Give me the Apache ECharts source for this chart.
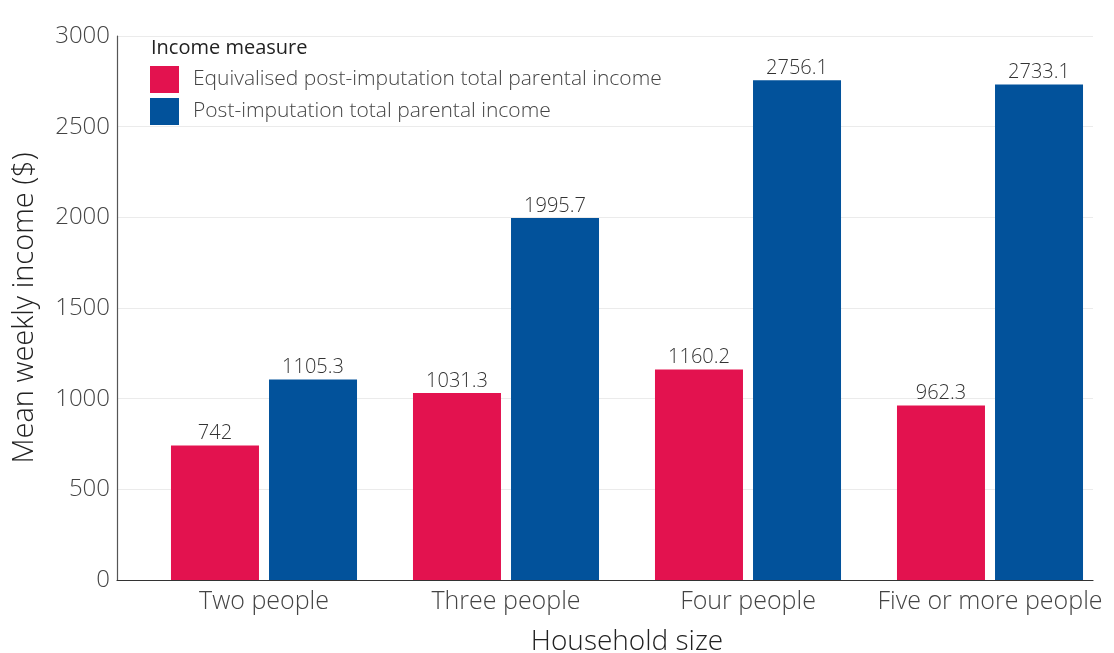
<!DOCTYPE html>
<html>
<head>
<meta charset="utf-8">
<script src="https://cdn.jsdelivr.net/npm/echarts@6/dist/echarts.min.js"></script>
<style>
html,body{margin:0;padding:0;background:#fff;}
#chart{width:1114px;height:653px;}
</style>
</head>
<body>
<div id="chart"></div>
<script>
const categories = ["Two people", "Three people", "Four people", "Five or more people"];
const seriesNames = ["Equivalised post-imputation total parental income", "Post-imputation total parental income"];
const equivalised = [742, 1031.3, 1160.2, 962.3];
const total = [1105.3, 1995.7, 2756.1, 2733.1];
const yTicks = [0, 500, 1000, 1500, 2000, 2500, 3000];

const FONT = "Open Sans";
const chart = echarts.init(document.getElementById('chart'), null, {renderer: 'canvas'});
const option = {
  backgroundColor: '#ffffff',
  animation: false,
  textStyle: {fontFamily: FONT},
  grid: [
    {left: 117, right: 21, top: 36, bottom: 73, outerBoundsMode: 'none', containLabel: false},
    {left: 143, right: 3, top: 36, bottom: 73, outerBoundsMode: 'none', containLabel: false}
  ],
  legend: {
    orient: 'vertical',
    left: 150, top: 66, padding: 0,
    icon: 'rect',
    itemWidth: 29, itemHeight: 27, itemGap: 5,
    data: seriesNames,
    textStyle: {fontFamily: FONT, fontSize: 21, fontWeight: 300, color: '#444', padding: [4,0,0,9]}
  },
  graphic: [{
    type: 'text', left: 151, top: 38,
    style: {text: 'Income measure', fontFamily: FONT, fontSize: 20, fill: '#222'}
  }],
  xAxis: [
    {
      type: 'category', gridIndex: 0, data: categories,
      axisLine: {show: true, lineStyle: {color: '#333', width: 1.2}},
      axisTick: {show: false}, axisLabel: {show: false}, splitLine: {show: false}
    },
    {
      type: 'category', gridIndex: 1, data: categories,
      axisLine: {show: false}, axisTick: {show: false},
      axisLabel: {fontFamily: FONT, fontSize: 25, fontWeight: 300, color: '#444', margin: 9, interval: 0, hideOverlap: false},
      name: 'Household size', nameLocation: 'middle', nameGap: 48,
      nameTextStyle: {fontFamily: FONT, fontSize: 28, fontWeight: 300, color: '#222'}
    }
  ],
  yAxis: [
    {
      type: 'value', gridIndex: 0, min: 0, max: 3000, interval: 500,
      axisLine: {show: true, lineStyle: {color: '#555', width: 1.2}},
      axisTick: {show: false},
      axisLabel: {fontFamily: FONT, fontSize: 24, fontWeight: 300, color: '#444', margin: 7, formatter: v => String(v)},
      splitLine: {show: true, lineStyle: {color: '#ebebeb', width: 1}},
      name: 'Mean weekly income ($)', nameLocation: 'middle', nameGap: 78,
      nameTextStyle: {fontFamily: FONT, fontSize: 29, fontWeight: 300, color: '#222'}
    },
    {
      type: 'value', gridIndex: 1, min: 0, max: 3000, interval: 500, show: false,
      splitLine: {show: false}
    }
  ],
  series: [
    {
      name: seriesNames[0], type: 'bar', xAxisIndex: 1, yAxisIndex: 1,
      data: equivalised, barWidth: 88, barGap: '11.4%',
      itemStyle: {color: '#E3124F'},
      label: {show: true, position: 'top', distance: 2, fontFamily: FONT, fontSize: 20, fontWeight: 300, color: '#333'}
    },
    {
      name: seriesNames[1], type: 'bar', xAxisIndex: 1, yAxisIndex: 1,
      data: total, barWidth: 88, barGap: '11.4%',
      itemStyle: {color: '#02529B'},
      label: {show: true, position: 'top', distance: 2, fontFamily: FONT, fontSize: 20, fontWeight: 300, color: '#333'}
    }
  ]
};
chart.setOption(option);
</script>
</body>
</html>
